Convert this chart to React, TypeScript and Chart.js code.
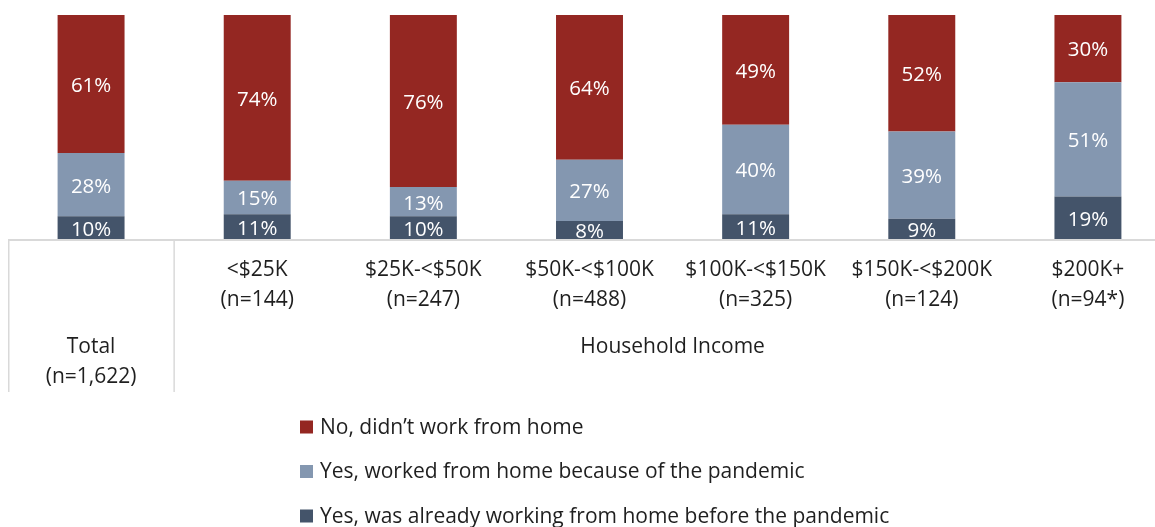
import React, { useEffect, useRef } from 'react';
import { Chart, registerables } from 'chart.js';

Chart.register(...registerables);

const categories = ['Total', '<$25K', '$25K-<$50K', '$50K-<$100K', '$100K-<$150K', '$150K-<$200K', '$200K+'];
const sampleSizes = ['(n=1,622)', '(n=144)', '(n=247)', '(n=488)', '(n=325)', '(n=124)', '(n=94*)'];
const groupLabel = 'Household Income';
const seriesNames = [
  'No, didn’t work from home',
  'Yes, worked from home because of the pandemic',
  'Yes, was already working from home before the pandemic',
];
const noWork = [61, 74, 76, 64, 49, 52, 30];
const pandemicWork = [28, 15, 13, 27, 40, 39, 51];
const alreadyWork = [10, 11, 10, 8, 11, 9, 19];
const seriesColors = ['#942722', '#8497B0', '#44546A'];

const FONT = '"Open Sans", "Liberation Sans", sans-serif';
const TEXT = '#1f1f1f';
const LINE = '#d9d9d9';

export default function App() {
  const ref = useRef<HTMLCanvasElement | null>(null);

  useEffect(() => {
    const canvas = ref.current;
    if (!canvas) return;
    const totals = categories.map((_, i) => noWork[i] + pandemicWork[i] + alreadyWork[i]);
    const norm = (arr: number[]) => arr.map((v, i) => (v / totals[i]) * 100);
    const raw = [alreadyWork, pandemicWork, noWork];

    const labelsPlugin = {
      id: 'customDraw',
      afterDatasetsDraw(chart: any) {
        const ctx = chart.ctx;
        ctx.save();
        ctx.font = `20.5px ${FONT}`;
        ctx.fillStyle = '#ffffff';
        ctx.textAlign = 'center';
        ctx.textBaseline = 'middle';
        chart.data.datasets.forEach((_: any, di: number) => {
          const meta = chart.getDatasetMeta(di);
          meta.data.forEach((bar: any, i: number) => {
            const y = (bar.y + bar.base) / 2 + 2;
            ctx.fillText(`${raw[di][i]}%`, bar.x, y);
          });
        });
        ctx.restore();
      },
      afterDraw(chart: any) {
        const ctx = chart.ctx;
        const area = chart.chartArea;
        const xs = chart.scales.x;
        ctx.save();
        // axis line
        ctx.strokeStyle = LINE;
        ctx.lineWidth = 2;
        ctx.beginPath();
        ctx.moveTo(area.left, area.bottom + 1);
        ctx.lineTo(area.right, area.bottom + 1);
        ctx.stroke();
        // separators
        const sepX = (xs.getPixelForValue(0) + xs.getPixelForValue(1)) / 2;
        ctx.lineWidth = 1.5;
        ctx.beginPath();
        ctx.moveTo(area.left + 0.75, area.bottom);
        ctx.lineTo(area.left + 0.75, area.bottom + 153);
        ctx.moveTo(sepX, area.bottom);
        ctx.lineTo(sepX, area.bottom + 153);
        ctx.stroke();
        // category labels
        ctx.font = `21px ${FONT}`;
        ctx.fillStyle = TEXT;
        ctx.textAlign = 'center';
        ctx.textBaseline = 'middle';
        categories.forEach((c, i) => {
          const x = xs.getPixelForValue(i);
          if (i === 0) {
            ctx.fillText(c, x, area.bottom + 108);
            ctx.fillText(sampleSizes[i], x, area.bottom + 138);
          } else {
            ctx.fillText(c, x, area.bottom + 31);
            ctx.fillText(sampleSizes[i], x, area.bottom + 61);
          }
        });
        const gx = (xs.getPixelForValue(1) + xs.getPixelForValue(categories.length - 1)) / 2;
        ctx.fillText(groupLabel, gx, area.bottom + 108);
        // legend
        const legendOrder = [0, 1, 2];
        ctx.textAlign = 'left';
        legendOrder.forEach((k, row) => {
          const cy = area.bottom + 188 + row * 44.5;
          ctx.fillStyle = seriesColors[k];
          ctx.fillRect(292, cy - 6.5, 13, 13);
          ctx.fillStyle = TEXT;
          ctx.fillText(seriesNames[k], 312, cy + 1);
        });
        ctx.restore();
      },
    };

    const chart = new Chart(canvas, {
      type: 'bar',
      data: {
        labels: categories,
        datasets: [
          { label: seriesNames[2], data: norm(alreadyWork), backgroundColor: seriesColors[2] },
          { label: seriesNames[1], data: norm(pandemicWork), backgroundColor: seriesColors[1] },
          { label: seriesNames[0], data: norm(noWork), backgroundColor: seriesColors[0] },
        ],
      },
      options: {
        animation: false,
        responsive: false,
        maintainAspectRatio: false,
        layout: { padding: { top: 7, bottom: 288, left: 0, right: 0 } },
        datasets: { bar: { categoryPercentage: 1, barPercentage: 0.403 } } as any,
        plugins: { legend: { display: false }, tooltip: { enabled: false } },
        scales: {
          x: { stacked: true, display: false },
          y: { stacked: true, display: false, min: 0, max: 100 },
        },
      },
      plugins: [labelsPlugin],
    });
    return () => chart.destroy();
  }, []);

  return (
    <div style={{ position: 'absolute', left: 8, top: 8, width: 1147, height: 519, overflow: 'hidden' }}>
      <canvas ref={ref} width={1163} height={519} style={{ display: 'block', width: 1163, height: 519 }} />
    </div>
  );
}
